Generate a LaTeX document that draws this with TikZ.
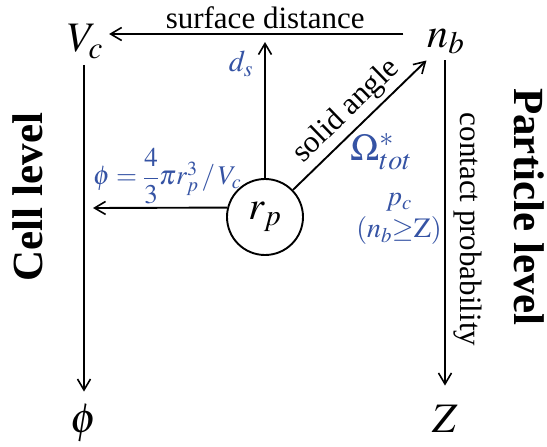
\documentclass[tikz,border=0pt]{standalone}
\usepackage{mathptmx}
\usepackage{amsmath}
\usepackage{fontspec}
\setmainfont{Liberation Serif}
\usepackage{xcolor}
\definecolor{lblblue}{HTML}{3553A4}
\usepackage{tikz}
\usetikzlibrary{arrows.meta}

\begin{document}
\begin{tikzpicture}[
  x=1pt, y=-1pt,
  big/.style={font=\fontsize{42}{48}\selectfont, inner sep=6pt},
  lab/.style={text=lblblue, inner sep=3pt},
  side/.style={font=\fontsize{43}{48}\selectfont\bfseries, inner sep=0pt},
  txt/.style={font=\fontsize{31}{36}\selectfont, inner sep=4pt},
  arr/.style={-{Straight Barb[length=11pt, width=13pt, line width=1.6pt]}, line width=1.9pt}
]
  \useasboundingbox (0,0) rectangle (547,447);
  \node[big, anchor=base] (vc) at (85,52) {$V_c$};
  \node[big, anchor=base] (nb) at (446,47) {$n_b$};
  \node[big, anchor=base] (phi) at (84,432) {$\phi$};
  \node[big, anchor=base] (z) at (445,432) {$Z$};
  \node[circle, draw, line width=1.9pt, minimum size=76pt, inner sep=0pt,
    font=\fontsize{40}{46}\selectfont] (rp) at (265,217) {$r_p$};
  \coordinate (dstip) at (265,42);
  \coordinate (phitip) at (93,208);
  % cell and particle sides
  \node[side, rotate=90] (cell) at (28,197) {Cell level};
  \node[side, rotate=-90] (particle) at (529,207) {Particle level};
  % arrows
  \draw[arr, shorten <=18pt] (nb.west |- 0,34) -- node[txt, above] {surface distance} (vc.east |- 0,34);
  \draw[arr, shorten >=6pt] (phi |- vc.south) -- (phi.north);
  \draw[arr, shorten >=13pt] (z |- nb.south) -- node[txt, sloped, above, inner sep=8pt] {contact probability} (z.north);
  \draw[arr] (rp) -- node[lab, pos=.84, left, inner sep=11pt, font=\fontsize{30}{34}\selectfont] {$d_s$} (dstip);
  \draw[arr] (rp.166) -- node[lab, above, xshift=7pt, font=\fontsize{27}{30}\selectfont] {$\phi=\dfrac{4}{3}\pi r_p^3\,/\,V_c$} (phitip);
  \draw[arr] (rp) -- node[txt, sloped, above] {solid angle} (nb);
  % labels
  \node[lab, font=\fontsize{38}{42}\selectfont] (omega) at (381,152) {$\Omega^*_{tot}$};
  \node[lab, align=center, font=\fontsize{28}{32}\selectfont] (pc) at (399,219) {$p_c$\\$(n_b{\geq}\mathrm{Z})$};
\end{tikzpicture}
\end{document}
